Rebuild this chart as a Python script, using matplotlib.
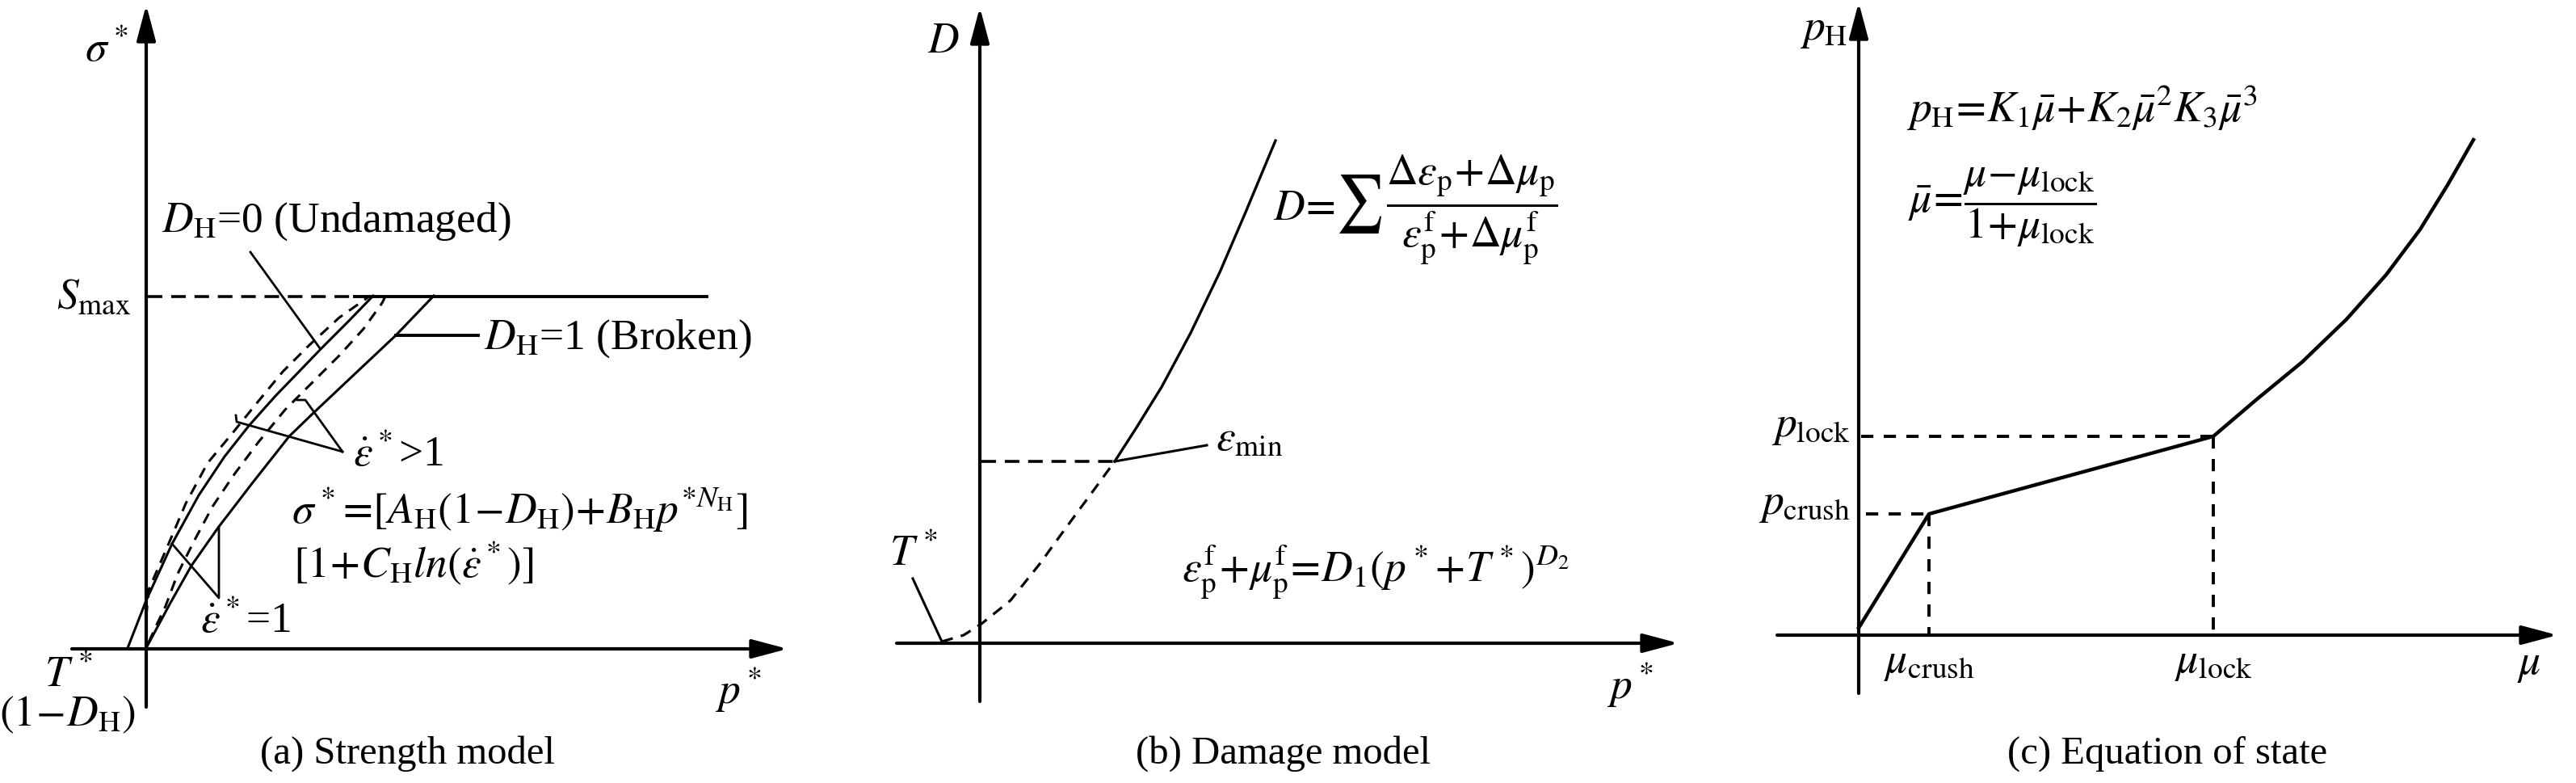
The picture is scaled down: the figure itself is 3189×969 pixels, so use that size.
import matplotlib.pyplot as plt
from matplotlib.textpath import TextPath
from matplotlib.patches import PathPatch
from matplotlib.transforms import Affine2D

plt.rcParams['font.family'] = ['Liberation Serif', 'DejaVu Serif']
plt.rcParams['mathtext.fontset'] = 'stix'

# (a) strength model -- schematic units measured from the axis origin
a_smax = 436
a_solid_left_x = [-23, 0, 32, 65, 97, 127, 160, 190, 216, 250, 281]
a_solid_left_y = [1, 60, 130, 190, 238, 276, 313, 344, 371, 405, 437]
a_solid_right_x = [1, 30, 56, 89, 132, 177, 206, 258, 309, 356]
a_solid_right_y = [3, 57, 103, 150, 206, 263, 291, 340, 388, 437]
a_dash_left_x = [0, 3, 26, 49, 76, 106, 136, 169, 202, 239, 276]
a_dash_left_y = [40, 73, 126, 180, 230, 266, 303, 343, 376, 410, 436]
a_dash_mid_x = [3, 14, 24, 39, 59, 82, 109, 139, 172, 206, 239, 269, 292, 296]
a_dash_mid_y = [8, 32, 53, 93, 133, 176, 216, 256, 296, 330, 363, 396, 428, 436]

# (b) damage model
b_solid_x = [167, 194, 225, 261, 297, 328, 366]
b_solid_y = [225, 267, 317, 384, 459, 531, 622]
b_dash_x = [-47, -20, 2, 38, 74, 106, 137, 167]
b_dash_y = [2, 10, 24, 53, 98, 142, 184, 225]

# (c) equation of state
c_curve_x = [0, 87, 439, 493, 549, 604, 653, 695, 729, 761]
c_curve_y = [9, 150, 246, 292, 338, 391, 446, 502, 557, 613]
c_crush = (87, 150)
c_lock = (439, 246)

captions = ['(a) Strength model', '(b) Damage model', '(c) Equation of state']

W, H = 3189, 969
fig = plt.figure(figsize=(W / 100, H / 100), dpi=100)

FS = 38.5
LW_AX = 3.0
LW = 2.2


def make_ax(x0, x1, ox, oy):
    ax = fig.add_axes([x0 / W, 0, (x1 - x0) / W, 1])
    ax.set_xlim(x0 - ox, x1 - ox)
    ax.set_ylim(oy - H, oy)
    ax.set_axis_off()
    return ax


def arrow(ax, start, tip):
    ax.annotate('', xy=tip, xytext=start,
                arrowprops=dict(arrowstyle='-|>,head_length=1.35,head_width=0.36',
                                mutation_scale=20, lw=LW_AX, color='k',
                                shrinkA=0, shrinkB=0))


def txt(ax, x, y, s, ha='left', fs=FS, va='baseline'):
    ax.text(x, y, s, ha=ha, va=va, fontsize=fs, color='k', clip_on=False)


def glyph_in_box(ax, s, x0, x1, y0, y1):
    # draw a glyph stretched to fill a box (data units)
    p = TextPath((0, 0), s, size=100)
    b = p.get_extents()
    tr = (Affine2D().translate(-b.x0, -b.y0)
          .scale((x1 - x0) / b.width, (y1 - y0) / b.height)
          .translate(x0, y0))
    ax.add_patch(PathPatch(tr.transform_path(p), fc='k', ec='none', clip_on=False))


# ---------------- (a)
ax = make_ax(0, 1000, 181, 803)
arrow(ax, (-92, 0), (794, 0))
arrow(ax, (0, -72), (0, 797))
ax.plot([2, 258], [a_smax, a_smax], color='k', lw=2.6, ls=(0, (5.0, 3.0)))
ax.plot([258, 694], [a_smax, a_smax], color='k', lw=2.8)
ax.plot(a_solid_left_x, a_solid_left_y, color='k', lw=LW)
ax.plot(a_solid_right_x, a_solid_right_y, color='k', lw=LW)
ax.plot(a_dash_left_x, a_dash_left_y, color='k', lw=LW, ls=(0, (4.4, 3.2)))
ax.plot(a_dash_mid_x, a_dash_mid_y, color='k', lw=LW, ls=(0, (4.4, 3.2)))
# leaders
ax.plot([129, 215], [491, 372], color='k', lw=2.0)
ax.plot([309, 411], [388, 388], color='k', lw=2.8)
ax.plot([111, 112, 243], [289, 281, 244], color='k', lw=2.0)
ax.plot([187, 197, 243], [308, 308, 244], color='k', lw=2.0)
ax.plot([32, 90, 90], [130, 63, 151], color='k', lw=2.0)

txt(ax, -76, 727, r'$\sigma^*$')
txt(ax, -19, 421, r'$S_{\mathrm{max}}$', ha='right')
txt(ax, 19, 516, r'$D_{\mathrm{H}}$=0 (Undamaged)')
txt(ax, 418, 371, r'$D_{\mathrm{H}}$=1 (Broken)')
txt(ax, 256, 226, r'$\dot{\varepsilon}^*$>1')
txt(ax, 180, 155, r'$\sigma^*\!=\![A_{\mathrm{H}}(1\!-\!D_{\mathrm{H}})\!+\!B_{\mathrm{H}}p^{*N_{\mathrm{H}}}]$')
txt(ax, 182, 89, r'$[1\!+\!C_{\mathrm{H}}ln(\dot{\varepsilon}^*)]$')
txt(ax, 67, 20, r'$\dot{\varepsilon}^*$=1')
txt(ax, -96, -47, r'$T^*$', ha='center')
txt(ax, -97, -95, r'$(1\!-\!D_{\mathrm{H}})$', ha='center')
txt(ax, 733, -68, r'$p^*$', ha='center')
txt(ax, 323, -130, captions[0], ha='center', fs=35, va='center')

# ---------------- (b)
ax = make_ax(1000, 2100, 1213, 796)
arrow(ax, (-103, 0), (865, 0))
arrow(ax, (0, -72), (0, 787))
ax.plot(b_solid_x, b_solid_y, color='k', lw=2.4)
ax.plot(b_dash_x, b_dash_y, color='k', lw=2.3, ls=(0, (4.4, 3.2)))
ax.plot([2, 167], [225, 225], color='k', lw=2.6, ls=(0, (5.0, 3.0)))
ax.plot([167, 281], [225, 245], color='k', lw=2.2)
ax.plot([-83, -47], [80, 2], color='k', lw=2.2)

txt(ax, -65, 731, r'$D$')
txt(ax, -112, 96, r'$T^*$')
txt(ax, 292, 238, r'$\varepsilon_{\mathrm{min}}$')
txt(ax, 250, 76, r'$\varepsilon_{\mathrm{p}}^{\mathrm{f}}\!+\!\mu_{\mathrm{p}}^{\mathrm{f}}\!=\!D_1(p^*\!+\!T^*)^{D_2}$')
txt(ax, 363, 524, r'$D\!=$')
glyph_in_box(ax, r'$\sum$', 445, 497, 507, 580)
txt(ax, 503, 531, r'$\dfrac{\Delta\varepsilon_{\mathrm{p}}\!+\!\Delta\mu_{\mathrm{p}}}{\varepsilon_{\mathrm{p}}^{\mathrm{f}}\!+\!\Delta\mu_{\mathrm{p}}^{\mathrm{f}}}$')
txt(ax, 805, -69, r'$p^*$', ha='center')
txt(ax, 376, -137, captions[1], ha='center', fs=35, va='center')

# ---------------- (c)
ax = make_ax(2100, 3189, 2301, 786)
arrow(ax, (-101, 0), (865, 0))
arrow(ax, (0, -72), (0, 783))
ax.plot(c_curve_x, c_curve_y, color='k', lw=3.2)
dash = dict(color='k', lw=2.8, ls=(0, (3.9, 3.3)))
ax.plot([9, c_crush[0]], [c_crush[1], c_crush[1]], **dash)
ax.plot([c_crush[0], c_crush[0]], [c_crush[1], 0], **dash)
ax.plot([3, c_lock[0]], [c_lock[1], c_lock[1]], **dash)
ax.plot([c_lock[0], c_lock[0]], [c_lock[1], 0], **dash)

txt(ax, -73, 737, r'$p_{\mathrm{H}}$')
txt(ax, 59, 635, r'$p_{\mathrm{H}}\!=\!K_1\bar{\mu}\!+\!K_2\bar{\mu}^2K_3\bar{\mu}^3$')
txt(ax, 61, 524, r'$\bar{\mu}\!=\!\dfrac{\mu\!-\!\mu_{\mathrm{lock}}}{1\!+\!\mu_{\mathrm{lock}}}$')
txt(ax, -10, c_lock[1], r'$p_{\mathrm{lock}}$', ha='right')
txt(ax, -10, c_crush[1], r'$p_{\mathrm{crush}}$', ha='right')
txt(ax, c_crush[0], -46, r'$\mu_{\mathrm{crush}}$', ha='center')
txt(ax, c_lock[0], -46, r'$\mu_{\mathrm{lock}}$', ha='center')
txt(ax, 830, -48, r'$\mu$', ha='center')
txt(ax, 382, -147, captions[2], ha='center', fs=35, va='center')

fig.savefig('out.png', dpi=100, facecolor='white')
